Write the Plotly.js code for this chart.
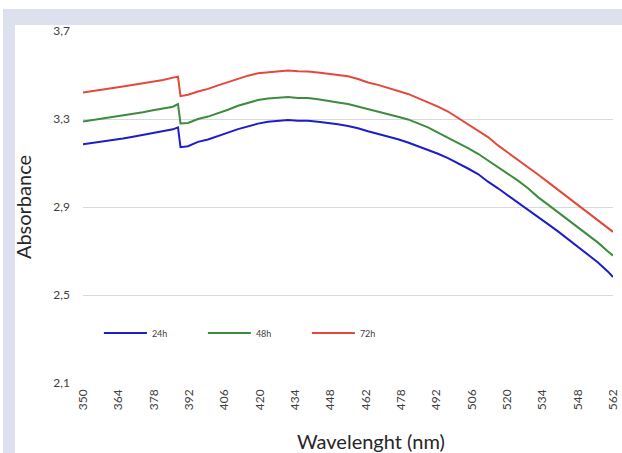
<!DOCTYPE html>
<html>
<head>
<meta charset="utf-8">
<script src="https://cdn.plot.ly/plotly-3.0.1.min.js"></script>
<style>
html,body{margin:0;padding:0;background:#ffffff;width:622px;height:453px;overflow:hidden;}
#frame{position:absolute;left:3px;top:9px;width:619px;height:444px;background:#dde0ee;}
#panel{position:absolute;left:15px;top:25px;width:607px;height:428px;background:#ffffff;}
#chart{position:absolute;left:0;top:0;width:622px;height:453px;}
</style>
</head>
<body>
<div id="frame"></div>
<div id="panel"></div>
<div id="chart"></div>
<script>
// Wavelength (nm)
var wavelength = [350,354,358,362,366,370,374,378,382,386,388,389,392,396,400,404,408,412,416,420,424,428,432,436,440,444,448,452,456,460,464,468,472,476,480,484,488,492,496,500,504,508,512,516,520,524,528,532,536,540,544,548,552,556,560,562];

var abs24h = [3.185,3.191,3.197,3.206,3.211,3.219,3.227,3.237,3.244,3.253,3.262,3.172,3.176,3.196,3.207,3.221,3.238,3.254,3.267,3.279,3.287,3.291,3.296,3.292,3.292,3.287,3.283,3.276,3.268,3.258,3.244,3.233,3.222,3.208,3.193,3.177,3.160,3.142,3.122,3.100,3.075,3.050,3.015,2.985,2.953,2.922,2.889,2.856,2.822,2.789,2.754,2.718,2.684,2.648,2.606,2.582];

var abs48h = [3.289,3.296,3.300,3.310,3.316,3.322,3.331,3.340,3.347,3.356,3.368,3.280,3.282,3.300,3.311,3.326,3.342,3.360,3.372,3.386,3.393,3.398,3.400,3.396,3.395,3.390,3.381,3.375,3.368,3.357,3.344,3.334,3.322,3.310,3.298,3.280,3.262,3.238,3.215,3.190,3.168,3.142,3.112,3.080,3.053,3.020,2.985,2.945,2.911,2.877,2.843,2.809,2.774,2.738,2.698,2.679];

var abs72h = [3.420,3.428,3.434,3.441,3.448,3.455,3.462,3.470,3.477,3.488,3.492,3.404,3.410,3.425,3.437,3.453,3.468,3.485,3.497,3.508,3.513,3.518,3.520,3.517,3.516,3.511,3.506,3.501,3.494,3.482,3.466,3.455,3.442,3.430,3.414,3.395,3.376,3.356,3.334,3.306,3.278,3.249,3.218,3.180,3.148,3.115,3.082,3.048,3.013,2.978,2.942,2.907,2.873,2.840,2.805,2.787];

var seriesNames = ["24h","48h","72h"];
var seriesColors = ["#1e1ec8","#3d8c3d","#e4483a"];

var xTickLabels = ["350","364","378","392","406","420","434","448","462","478","492","506","520","534","548","562"];
var yTickVals = [2.1,2.5,2.9,3.3,3.7];

// category-style evenly spaced tick positions across the axis
var xMin = 350, xMax = 562;
var xTickVals = xTickLabels.map(function(_, i){ return xMin + i*(xMax-xMin)/(xTickLabels.length-1); });

var ys = [abs24h, abs48h, abs72h];
var traces = ys.map(function(y, i){
  return {
    x: wavelength, y: y, type: 'scatter', mode: 'lines',
    name: seriesNames[i],
    line: {color: seriesColors[i], width: 2}
  };
});

var font = "Lato, 'Open Sans', sans-serif";
var layout = {
  width: 622, height: 453,
  margin: {l: 83, r: 9, t: 31, b: 70},
  paper_bgcolor: 'rgba(0,0,0,0)',
  plot_bgcolor: 'rgba(0,0,0,0)',
  separators: ',.',
  font: {family: font, color: '#404040', size: 12},
  showlegend: true,
  legend: {
    orientation: 'h', x: 0.03, y: 0.142, xanchor: 'left', yanchor: 'middle',
    bgcolor: 'rgba(0,0,0,0)', font: {size: 9, color: '#404040', family: font},
    entrywidth: 46, entrywidthmode: 'pixels', itemwidth: 43, tracegroupgap: 0
  },
  xaxis: {
    type: 'linear', range: [xMin, xMax],
    tickmode: 'array', tickvals: xTickVals, ticktext: xTickLabels,
    tickangle: -90, showgrid: false, zeroline: false, showline: false,
    ticks: '', ticklen: 0, ticklabelstandoff: 3, tickfont: {size: 12, color: '#404040'}
  },
  yaxis: {
    range: [2.1, 3.7], tickmode: 'array', tickvals: yTickVals,
    tickformat: '.1f', showgrid: true, gridcolor: '#d9d9d9', gridwidth: 1,
    zeroline: false, showline: false, ticks: '', ticklabelstandoff: 12,
    tickfont: {size: 12, color: '#404040'},
    title: {text: 'Absorbance', font: {size: 20, color: '#262626'}, standoff: 16}
  },
  annotations: [{
    text: 'Wavelenght (nm)', xref: 'paper', yref: 'paper',
    x: 0.543, y: -0.165, xanchor: 'center', yanchor: 'middle', showarrow: false,
    font: {size: 20, color: '#262626', family: font}
  }]
};

Plotly.newPlot('chart', traces, layout, {displayModeBar: false, staticPlot: true});
</script>
</body>
</html>
